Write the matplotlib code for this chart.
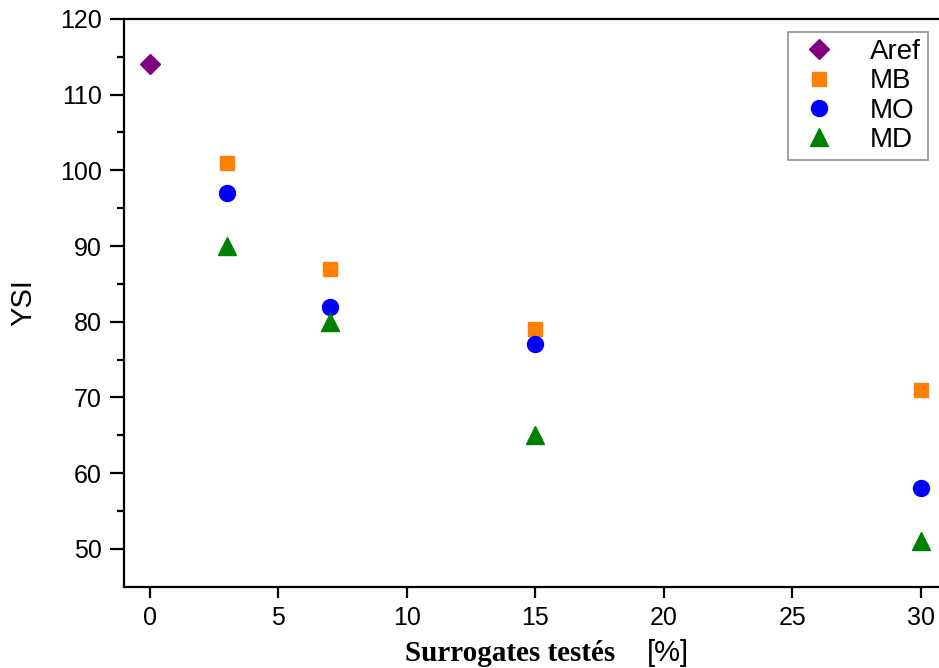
import matplotlib.pyplot as plt

# data
aref_x = [0]
aref_y = [114]
x_vals = [3, 7, 15, 30]
mb_y = [101, 87, 79, 71]
mo_y = [97, 82, 77, 58]
md_y = [90, 80, 65, 51]
x_ticks = [0, 5, 10, 15, 20, 25, 30]
y_ticks = [50, 60, 70, 80, 90, 100, 110, 120]

plt.rcParams['font.family'] = ['Liberation Sans', 'DejaVu Sans']

fig = plt.figure(figsize=(9.39, 6.68), dpi=100)
ax = fig.add_axes([0.132, 0.1217, 0.868, 0.85])

ax.plot(aref_x, aref_y, 'D', color='#800080', ms=10, label='Aref', linestyle='none')
ax.plot(x_vals, mb_y, 's', color='#FF7F00', ms=10.5, label='MB', linestyle='none')
ax.plot(x_vals, mo_y, 'o', color='#0000FF', ms=11.5, label='MO', linestyle='none')
ax.plot(x_vals, md_y, '^', color='#008000', ms=12.5, label='MD', linestyle='none')

ax.set_xlim(-1, 30.7)
ax.set_ylim(45, 120)
ax.set_xticks(x_ticks)
ax.set_yticks(y_ticks)
ax.set_yticks([55, 65, 75, 85, 95, 105, 115], minor=True)

for s in ['left', 'bottom', 'top']:
    ax.spines[s].set_linewidth(1.6)
ax.spines['right'].set_visible(False)

ax.tick_params(axis='both', which='major', direction='out', length=8, width=1.6,
               labelsize=18, pad=6)
ax.tick_params(axis='y', which='minor', direction='out', length=5, width=1.6)
ax.tick_params(axis='x', which='minor', bottom=False)
ax.yaxis.set_tick_params(length=10, which='major')

ax.set_ylabel('YSI', fontsize=21)
ax.yaxis.set_label_coords(-0.106, 0.5)

# x label: bold serif part + sans part
fig.text(0.431, 0.022, 'Surrogates testés', fontsize=21, fontweight='bold',
         family=['Liberation Serif', 'DejaVu Serif'], ha='left', va='center')
fig.text(0.689, 0.022, '[%]', fontsize=21, ha='left', va='center')

leg = ax.legend(loc='upper right', bbox_to_anchor=(0.9865, 0.977), borderaxespad=0,
                fontsize=20, frameon=True, fancybox=False, handletextpad=1.0,
                labelspacing=0.12, borderpad=0.25, handlelength=1.7)
leg.get_frame().set_edgecolor('#777777')
leg.get_frame().set_linewidth(1.2)

fig.savefig('out.png', dpi=100)
